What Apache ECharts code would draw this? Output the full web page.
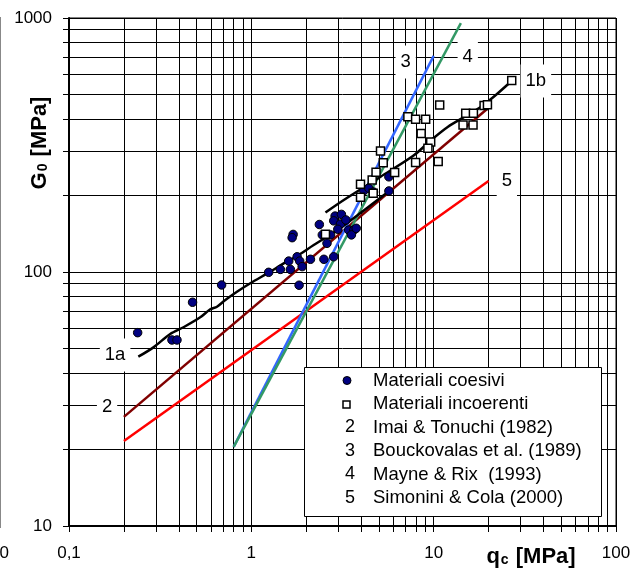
<!DOCTYPE html>
<html><head><meta charset="utf-8">
<script src="https://cdn.jsdelivr.net/npm/echarts@6/dist/echarts.min.js"></script>
<style>html,body{margin:0;padding:0;background:#fff}#c{width:641px;height:572px}</style>
</head><body><div id="c"></div>
<script>
// ---- data ----
const xTickLabels = ['0,1', '1', '10', '100'];   // 0.1, 1, 10, 100
const yTickLabels = ['10', '100', '1000'];       // 10, 100, 1000

const coesivi = [
  [0.238, 57.7], [0.367, 54.0], [0.391, 54.0], [0.476, 76.0], [0.687, 88.9],
  [1.245, 99.7], [1.443, 102.4], [1.637, 102.4], [1.828, 88.7], [1.603, 110.4],
  [1.783, 114.8], [1.842, 110.4], [1.900, 105.0], [2.11, 112.2], [1.695, 140.6],
  [1.674, 136.5], [2.50, 112.2], [2.83, 114.8], [2.36, 153.8], [2.60, 129.7],
  [2.45, 140.0], [2.72, 140.0], [2.88, 166.0], [3.12, 168.6], [2.83, 159.0],
  [3.08, 154.6], [2.98, 147.3], [3.30, 160.3], [3.42, 146.3], [3.65, 146.3],
  [3.54, 140.0], [3.76, 148.6], [4.14, 209.0], [4.41, 213.6], [4.68, 206.5],
  [5.68, 237.0], [5.68, 208.5]
];
const incoerenti = [
  [2.55, 140.7], [3.97, 221.4], [3.97, 196.9], [4.60, 230.3], [4.66, 204.0],
  [4.83, 246.9], [5.11, 299.5], [5.29, 269.3], [6.11, 246.5], [7.22, 408.7],
  [7.96, 399.0], [9.04, 399.0], [8.54, 351.0], [9.63, 324.9], [9.30, 306.9],
  [7.96, 269.8], [10.59, 272.3], [10.79, 454.5], [14.99, 421.6], [16.52, 421.6],
  [14.49, 379.0], [16.44, 379.0], [18.90, 452.4], [19.72, 455.7], [26.8, 567.6]
];
const line1a = [
  [0.240, 46.4], [0.2905, 50.5], [0.359, 57.0], [0.4246, 60.6], [0.5246, 66.3],
  [0.5953, 71.3], [0.648, 73.0], [0.72, 77.6], [0.834, 83.6], [0.987, 90.3],
  [1.272, 100.3], [1.505, 108.2], [1.783, 115.6], [2.199, 127.8], [2.605, 137.7],
  [3.083, 149.0], [5.657, 207.5]
];
const line1b = [
  [2.55, 171.5], [3.215, 192.1], [5.115, 237.2], [7.76, 287.5], [9.63, 329.4],
  [11.94, 372.3], [15.38, 415.1], [18.13, 446.2], [21.92, 497.7], [26.83, 566.4]
];
const line2 = [[0.2, 26.9], [20, 443]];   // Imai & Tonuchi (1982)
const line3 = [[0.8, 20.5], [10, 709]];   // Bouckovalas et al. (1989)
const line4 = [[0.8, 20.5], [14.1, 955]]; // Mayne & Rix (1993)
const line5 = [[0.2, 21.6], [20, 228]];   // Simonini & Cola (2000)

const curveLabels = [
  ['1a', 0.179, 47.1], ['2', 0.1617, 29.4], ['3', 7.02, 671],
  ['4', 15.38, 702], ['1b', 36.35, 565], ['5', 25.2, 228]
];
const legendSymbols = ['●', '□', '2', '3', '4', '5'];
const legendTexts = [
  'Materiali coesivi', 'Materiali incoerenti', 'Imai & Tonuchi (1982)',
  'Bouckovalas et al. (1989)', 'Mayne & Rix  (1993)', 'Simonini & Cola (2000)'
];

// ---- chart ----
const FONT = '"Liberation Sans", Arial, sans-serif';
const chart = echarts.init(document.getElementById('c'), null, {renderer: 'canvas'});

function lineSeries(data, color, z) {
  return {type: 'line', data: data, symbol: 'none', silent: true, z: z,
    lineStyle: {color: color, width: 2.5}, animation: false};
}

const legendRowsY = [380.5, 404, 427.5, 451, 474.5, 498];
const legendGraphics = [
  {type: 'rect', shape: {x: 304.5, y: 367.5, width: 297, height: 149},
   style: {fill: '#fff', stroke: '#000', lineWidth: 1}, z: 100}
];
legendRowsY.forEach((y, i) => {
  if (i === 0) {
    legendGraphics.push({type: 'circle', shape: {cx: 347, cy: y, r: 4},
      style: {fill: '#000080', stroke: '#000', lineWidth: 1}, z: 101});
  } else if (i === 1) {
    legendGraphics.push({type: 'rect', shape: {x: 343, y: y - 3, width: 7, height: 7},
      style: {fill: '#fff', stroke: '#000', lineWidth: 1.5}, z: 101});
  } else {
    legendGraphics.push({type: 'text', x: 350, y: y, z: 101,
      style: {text: legendSymbols[i], font: '18px ' + FONT, fill: '#000',
        align: 'center', verticalAlign: 'middle'}});
  }
  legendGraphics.push({type: 'text', x: 373, y: y, z: 101,
    style: {text: legendTexts[i], font: '18.5px ' + FONT, fill: '#000',
      align: 'left', verticalAlign: 'middle'}});
});

const option = {
  animation: false,
  backgroundColor: '#fff',
  grid: {left: 69, right: 25, top: 18, bottom: 46, show: true,
    borderColor: '#000', borderWidth: 1, containLabel: false},
  xAxis: {
    type: 'log', logBase: 10, min: 0.1, max: 100,
    axisLine: {show: true, onZero: false, lineStyle: {color: '#000', width: 2}},
    axisTick: {show: true, inside: false, length: 6, lineStyle: {color: '#000'}},
    minorTick: {show: true, splitNumber: 9, length: 6, lineStyle: {color: '#000'}},
    splitLine: {show: true, lineStyle: {color: '#000', width: 1}},
    minorSplitLine: {show: true, lineStyle: {color: '#000', width: 1}},
    axisLabel: {fontFamily: FONT, fontSize: 17, color: '#000', margin: 19,
      formatter: v => xTickLabels[Math.round(Math.log10(v)) + 1]}
  },
  yAxis: {
    type: 'log', logBase: 10, min: 10, max: 1000,
    axisLine: {show: true, onZero: false, lineStyle: {color: '#000', width: 2}},
    axisTick: {show: true, inside: false, length: 6, lineStyle: {color: '#000'}},
    minorTick: {show: true, splitNumber: 9, length: 6, lineStyle: {color: '#000'}},
    splitLine: {show: true, lineStyle: {color: '#000', width: 1}},
    minorSplitLine: {show: true, lineStyle: {color: '#000', width: 1}},
    axisLabel: {fontFamily: FONT, fontSize: 17, color: '#000', margin: 17,
      formatter: v => yTickLabels[Math.round(Math.log10(v)) - 1]}
  },
  series: [
    lineSeries(line2, '#800000', 3),
    lineSeries(line5, '#ff0000', 3),
    lineSeries(line3, '#3366ff', 3),
    lineSeries(line4, '#339966', 4),
    Object.assign(lineSeries(line1a, '#000', 5), {smooth: 0.3}),
    Object.assign(lineSeries(line1b, '#000', 5), {smooth: 0.3}),
    {type: 'scatter', data: coesivi, symbol: 'circle', symbolSize: 8.5, z: 6,
      itemStyle: {color: '#000080', borderColor: '#000', borderWidth: 1, opacity: 1}},
    {type: 'scatter', data: incoerenti, symbol: 'rect', symbolSize: 8, z: 7,
      itemStyle: {color: '#fff', borderColor: '#000', borderWidth: 1.5, opacity: 1}},
    {type: 'scatter', z: 8, symbolSize: 0, silent: true,
      itemStyle: {opacity: 1},
      data: curveLabels.map(l => ({name: l[0], value: [l[1], l[2]]})),
      label: {show: true, position: 'inside', formatter: p => p.name,
        fontFamily: FONT, fontSize: 18.5, color: '#000', opacity: 1,
        backgroundColor: '#fff', padding: [7, 5]}}
  ],
  graphic: [
    {type: 'text', x: 40, y: 143, rotation: Math.PI / 2, z: 50,
      style: {text: '{b|G}{s|0}{b| [MPa]}', align: 'center', verticalAlign: 'middle',
        rich: {b: {font: 'bold 22px ' + FONT, fill: '#000'},
               s: {font: 'bold 14px ' + FONT, fill: '#000', padding: [7, 1, 0, 1]}}}},
    {type: 'text', x: 531, y: 557, z: 50,
      style: {text: '{b|q}{s|c}{b| [MPa]}', align: 'center', verticalAlign: 'middle',
        rich: {b: {font: 'bold 22px ' + FONT, fill: '#000'},
               s: {font: 'bold 14px ' + FONT, fill: '#000', padding: [7, 1, 0, 1]}}}},
    {type: 'line', shape: {x1: 0.5, y1: 17, x2: 0.5, y2: 528}, z: 50,
      style: {stroke: '#888', lineWidth: 1}},
    {type: 'text', x: 9, y: 553, z: 50,
      style: {text: '0', font: '17px ' + FONT, fill: '#000', align: 'right', verticalAlign: 'middle'}}
  ].concat(legendGraphics)
};
chart.setOption(option);
</script></body></html>
